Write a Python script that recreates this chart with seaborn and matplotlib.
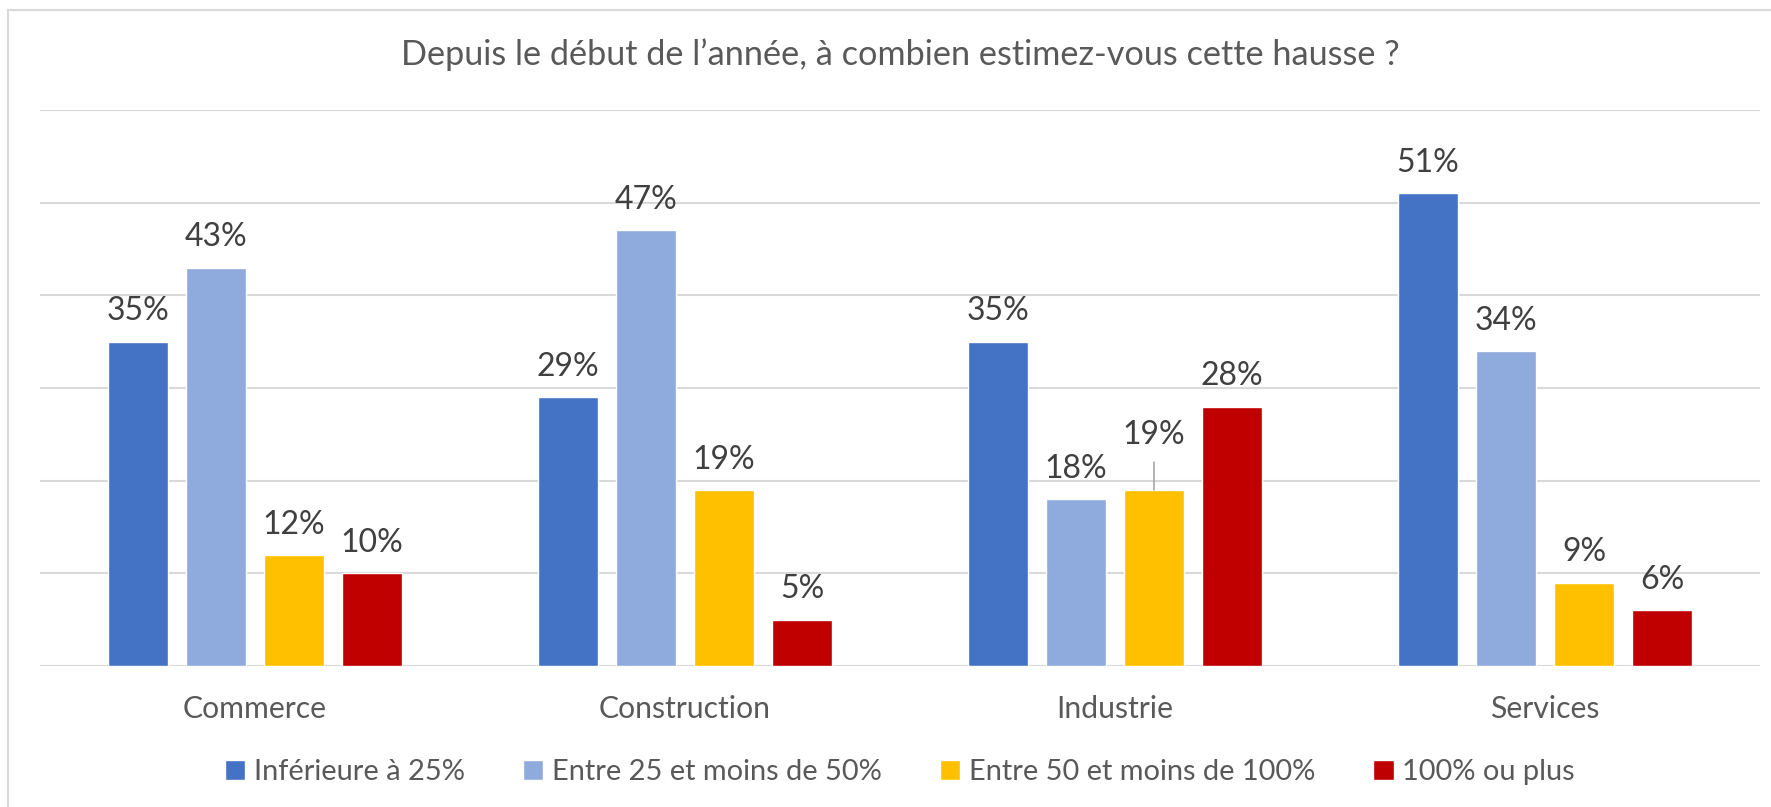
import matplotlib
matplotlib.use("Agg")
import matplotlib.pyplot as plt
import seaborn as sns
import pandas as pd
from matplotlib.patches import Rectangle

categories = ["Commerce", "Construction", "Industrie", "Services"]
series = ["Inférieure à 25%", "Entre 25 et moins de 50%",
          "Entre 50 et moins de 100%", "100% ou plus"]
inf25 = [35, 29, 35, 51]
e25_50 = [43, 47, 18, 34]
e50_100 = [12, 19, 19, 9]
plus100 = [10, 5, 28, 6]
title = "Depuis le début de l’année, à combien estimez-vous cette hausse ?"
colors = ["#4472C4", "#8FAADC", "#FFC000", "#C00000"]

values = [inf25, e25_50, e50_100, plus100]
rows = []
for s, vals in zip(series, values):
    for c, v in zip(categories, vals):
        rows.append({"cat": c, "serie": s, "val": v})
df = pd.DataFrame(rows)

sns.set_style("white")
plt.rcParams["font.family"] = ["Lato", "DejaVu Sans"]

W, H = 1771, 807
fig = plt.figure(figsize=(W / 100, H / 100), dpi=100)
ax = fig.add_axes([40 / W, 1 - 666 / H, (1760 - 40) / W, (666 - 110) / H])

sns.barplot(data=df, x="cat", y="val", hue="serie", order=categories,
            hue_order=series, palette=colors, width=0.725, gap=0.22,
            saturation=1, ax=ax, legend=True)

ax.set_ylim(0, 60)
ax.set_xlim(-0.5, 3.5)
ax.set_yticks(range(0, 61, 10))
ax.set_yticklabels([])
ax.grid(axis="y", color="#D9D9D9", linewidth=1.5)
ax.set_axisbelow(True)
for sp in ax.spines.values():
    sp.set_visible(False)
ax.tick_params(axis="both", length=0)
ax.tick_params(axis="x", pad=21, labelsize=21.7, labelcolor="#595959")
ax.set_xlabel("")
ax.set_ylabel("")

label_color = "#404040"
for i, cont in enumerate(ax.containers):
    labels = []
    for j, v in enumerate(values[i]):
        if i == 2 and j == 2:
            labels.append("")
        else:
            labels.append(f"{v}%")
    ax.bar_label(cont, labels=labels, padding=11, fontsize=23, color=label_color)

# Leader-line label for Industrie 19%
bar = ax.containers[2][2]
bx = bar.get_x() + bar.get_width() / 2
by = bar.get_height()
ax.annotate(f"{values[2][2]}%", xy=(bx, by), xytext=(0, 29),
            textcoords="offset points", ha="center", va="bottom",
            fontsize=23, color=label_color)
ax.annotate("", xy=(bx, by), xytext=(0, 20), textcoords="offset points",
            arrowprops=dict(arrowstyle="-", color="#A6A6A6", lw=1.2,
                            shrinkA=0, shrinkB=0))

handles, lbls = ax.get_legend_handles_labels()
ax.legend(handles, lbls, loc="center", bbox_to_anchor=(0.5, (666 - 772) / (666 - 110)),
          ncol=4, frameon=False, fontsize=20.9, labelcolor="#595959",
          handlelength=0.7, handleheight=0.7, handletextpad=0.3,
          columnspacing=2.0)

fig.text(900 / W, 1 - 55 / H, title, ha="center", va="center",
         fontsize=24.7, color="#595959")

fig.patches.append(Rectangle((8 / W, -0.1), 1.2, (1 - 10 / H) + 0.1,
                             transform=fig.transFigure, fill=False,
                             edgecolor="#D9D9D9", linewidth=1.5))

fig.savefig("out.png", dpi=100)
